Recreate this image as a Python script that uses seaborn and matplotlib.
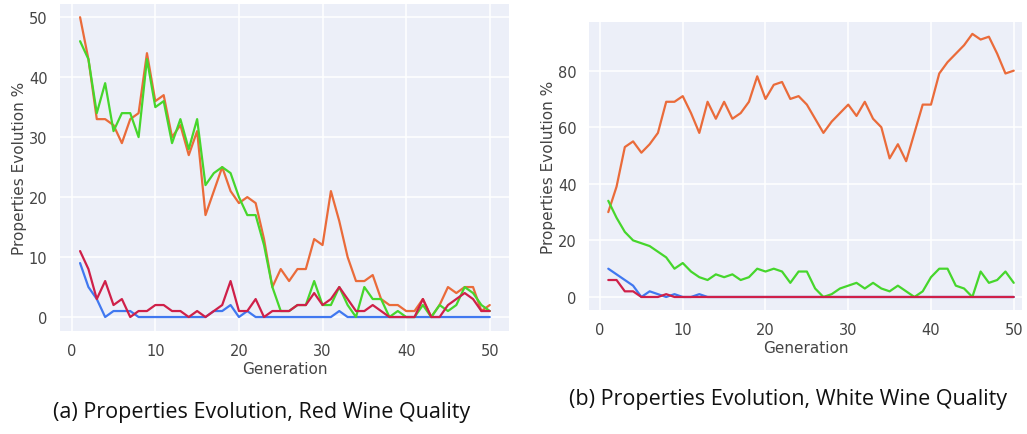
import numpy as np
import pandas as pd
import matplotlib
matplotlib.use("Agg")
import matplotlib.pyplot as plt
import seaborn as sns

generations = list(range(1, 51))

# Red wine panel
red_orange = [50, 43, 33, 33, 32, 29, 33, 34, 44, 36, 37, 30, 32, 27, 31, 17, 21, 25, 21, 19,
              20, 19, 13, 5, 8, 6, 8, 8, 13, 12, 21, 16, 10, 6, 6, 7, 3, 2, 2, 1,
              1, 3, 0, 2, 5, 4, 5, 5, 1, 2]
red_green = [46, 43, 34, 39, 31, 34, 34, 30, 43, 35, 36, 29, 33, 28, 33, 22, 24, 25, 24, 20,
             17, 17, 12, 5, 1, 1, 2, 2, 6, 2, 2, 5, 2, 0, 5, 3, 3, 0, 1, 0,
             0, 2, 0, 2, 1, 2, 5, 4, 2, 1]
red_blue = [9, 5, 3, 0, 1, 1, 1, 0, 0, 0, 0, 0, 0, 0, 0, 0, 1, 1, 2, 0,
            1, 0, 0, 0, 0, 0, 0, 0, 0, 0, 0, 1, 0, 0, 0, 0, 0, 0, 0, 0,
            0, 0, 0, 0, 0, 0, 0, 0, 0, 0]
red_red = [11, 8, 3, 6, 2, 3, 0, 1, 1, 2, 2, 1, 1, 0, 1, 0, 1, 2, 6, 1,
           1, 3, 0, 1, 1, 1, 2, 2, 4, 2, 3, 5, 3, 1, 1, 2, 1, 0, 0, 0,
           0, 3, 0, 0, 2, 3, 4, 3, 1, 1]

# White wine panel
white_orange = [30, 39, 53, 55, 51, 54, 58, 69, 69, 71, 65, 58, 69, 63, 69, 63, 65, 69, 78, 70,
                75, 76, 70, 71, 68, 63, 58, 62, 65, 68, 64, 69, 63, 60, 49, 54, 48, 58, 68, 68,
                79, 83, 86, 89, 93, 91, 92, 86, 79, 80]
white_green = [34, 28, 23, 20, 19, 18, 16, 14, 10, 12, 9, 7, 6, 8, 7, 8, 6, 7, 10, 9,
               10, 9, 5, 9, 9, 3, 0, 1, 3, 4, 5, 3, 5, 3, 2, 4, 2, 0, 2, 7,
               10, 10, 4, 3, 0, 9, 5, 6, 9, 5]
white_blue = [10, 8, 6, 4, 0, 2, 1, 0, 1, 0, 0, 1, 0, 0, 0, 0, 0, 0, 0, 0,
              0, 0, 0, 0, 0, 0, 0, 0, 0, 0, 0, 0, 0, 0, 0, 0, 0, 0, 0, 0,
              0, 0, 0, 0, 0, 0, 0, 0, 0, 0]
white_red = [6, 6, 2, 2, 0, 0, 0, 1, 0, 0, 0, 0, 0, 0, 0, 0, 0, 0, 0, 0,
             0, 0, 0, 0, 0, 0, 0, 0, 0, 0, 0, 0, 0, 0, 0, 0, 0, 0, 0, 0,
             0, 0, 0, 0, 0, 0, 0, 0, 0, 0]

x_ticks = [0, 10, 20, 30, 40, 50]
red_y_ticks = [0, 10, 20, 30, 40, 50]
white_y_ticks = [0, 20, 40, 60, 80]
captions = ["(a) Properties Evolution, Red Wine Quality",
            "(b) Properties Evolution, White Wine Quality"]
series_names = ["s_blue", "s_orange", "s_green", "s_red"]
palette = {"s_blue": "#4078F0", "s_orange": "#EA6B3A", "s_green": "#46D62C", "s_red": "#CF2049"}

def long_df(blue, orange, green, red):
    frames = []
    for name, vals in zip(series_names, [blue, orange, green, red]):
        frames.append(pd.DataFrame({"Generation": generations, "value": vals, "series": name}))
    return pd.concat(frames, ignore_index=True)

df_red = long_df(red_blue, red_orange, red_green, red_red)
df_white = long_df(white_blue, white_orange, white_green, white_red)

sns.set_theme(style="darkgrid", rc={
    "axes.facecolor": "#ECEFF8",
    "grid.color": "white",
    "grid.linewidth": 1.1,
    "axes.edgecolor": "#ECEFF8",
})
plt.rcParams['font.family'] = ['DejaVu Sans']

fig = plt.figure(figsize=(10.27, 4.35), dpi=100)
ax1 = fig.add_axes([60/1027, 1-332/435, (509-60)/1027, (332-5)/435])
ax2 = fig.add_axes([589/1027, 1-311/435, (1022-589)/1027, (311-23)/435])

tick_color = "#444444"
for ax, df, yt, ylim in [(ax1, df_red, red_y_ticks, (-2.33, 52.2)),
                         (ax2, df_white, white_y_ticks, (-4.6, 97.2))]:
    sns.lineplot(data=df, x="Generation", y="value", hue="series", palette=palette,
                 hue_order=series_names, linewidth=1.6, legend=False, ax=ax)
    ax.set_xticks(x_ticks)
    ax.set_yticks(yt)
    ax.set_ylim(*ylim)
    ax.set_xlabel("Generation", fontsize=11, color=tick_color, labelpad=2)
    ax.set_ylabel("Properties Evolution %", fontsize=11, color=tick_color, labelpad=1)
    ax.tick_params(axis="both", labelsize=10.5, colors=tick_color, length=0, pad=9)
    for s in ax.spines.values():
        s.set_visible(False)

ax1.set_xlim(-1.4, 52.3)
ax2.set_xlim(-1.33, 51.0)

fig.text(262/1027, 1-413/435, captions[0], ha="center", va="center", fontsize=15.5,
         family=["Open Sans", "DejaVu Sans"], color="#111111")
fig.text(788/1027, 1-400/435, captions[1], ha="center", va="center", fontsize=15.5,
         family=["Open Sans", "DejaVu Sans"], color="#111111")

fig.savefig("out.png", dpi=100)
